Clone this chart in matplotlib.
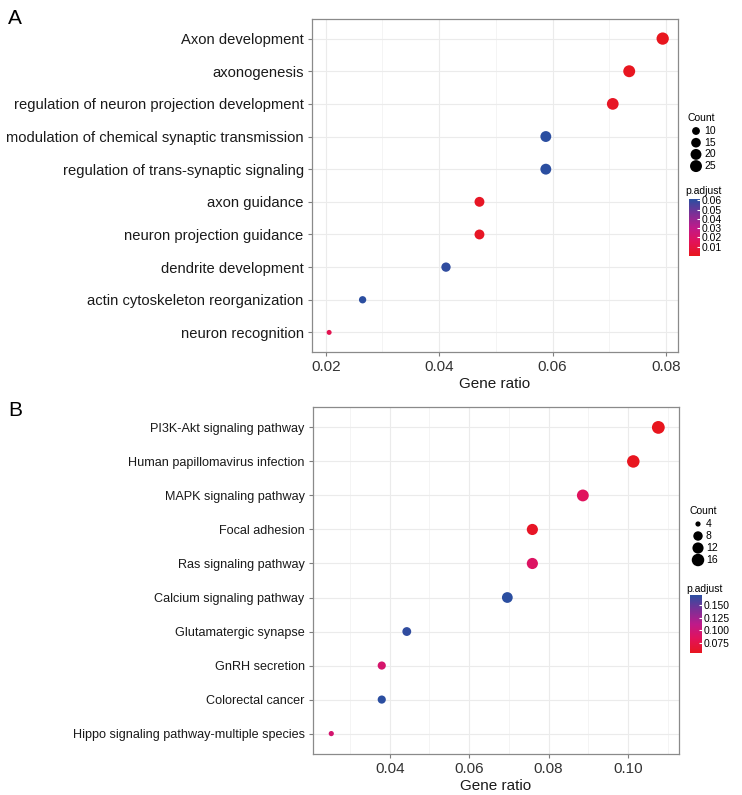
import numpy as np
import matplotlib
matplotlib.use("Agg")
import matplotlib.pyplot as plt
from matplotlib.colors import LinearSegmentedColormap, Normalize

plt.rcParams['font.family'] = ['Liberation Sans', 'DejaVu Sans']

# ---------------- datos ----------------
# panel A: GO
terms_a = ["Axon development", "axonogenesis",
           "regulation of neuron projection development",
           "modulation of chemical synaptic transmission",
           "regulation of trans-synaptic signaling", "axon guidance",
           "neuron projection guidance", "dendrite development",
           "actin cytoskeleton reorganization", "neuron recognition"]
ratio_a = [0.0794, 0.0735, 0.0706, 0.0588, 0.0588, 0.0471, 0.0471, 0.0412, 0.0265, 0.0206]
count_a = [27, 25, 24, 20, 20, 16, 16, 14, 9, 7]
padj_a = [0.0003, 0.001, 0.002, 0.061, 0.061, 0.002, 0.002, 0.060, 0.061, 0.013]
size_breaks_a = [10, 15, 20, 25]
cbar_ticks_a = [0.01, 0.02, 0.03, 0.04, 0.05, 0.06]
xticks_a = [0.02, 0.04, 0.06, 0.08]

# panel B: KEGG
terms_b = ["PI3K-Akt signaling pathway", "Human papillomavirus infection",
           "MAPK signaling pathway", "Focal adhesion", "Ras signaling pathway",
           "Calcium signaling pathway", "Glutamatergic synapse", "GnRH secretion",
           "Colorectal cancer", "Hippo signaling pathway-multiple species"]
ratio_b = [0.1076, 0.1013, 0.0886, 0.0759, 0.0759, 0.0696, 0.0443, 0.0380, 0.0380, 0.0253]
count_b = [17, 16, 14, 12, 12, 11, 7, 6, 6, 4]
padj_b = [0.054, 0.055, 0.085, 0.058, 0.088, 0.170, 0.168, 0.093, 0.170, 0.095]
size_breaks_b = [4, 8, 12, 16]
cbar_ticks_b = [0.075, 0.100, 0.125, 0.150]
xticks_b = [0.04, 0.06, 0.08, 0.10]

W, H = 742, 795
cmap = LinearSegmentedColormap.from_list(
    "padj", ["#E8161E", "#E2125A", "#BE1A8A", "#7A3096", "#2B4EA0"])


def diam(c, cmin, cmax, dmin, dmax):
    # diametro en px, area tipo ggplot
    c = np.asarray(c, dtype=float)
    return dmin + (dmax - dmin) * np.sqrt((c - cmin) / (cmax - cmin))


def s_pts(d):
    return (np.asarray(d) * 72 / 100) ** 2


def rect(x0, y0, x1, y1):
    # pixeles (arriba-izquierda) -> fraccion de figura
    return [x0 / W, 1 - y1 / H, (x1 - x0) / W, (y1 - y0) / H]


def panel(fig, box, terms, ratio, count, padj, xticks, xlim, fs_y, dr):
    ax = fig.add_axes(rect(*box))
    n = len(terms)
    y = np.arange(n)[::-1]
    norm = Normalize(min(padj), max(padj))
    d = diam(count, min(count), max(count), *dr)
    ax.scatter(ratio, y, s=s_pts(d), c=padj, cmap=cmap, norm=norm,
               edgecolors='none', zorder=3)
    ax.set_yticks(y)
    ax.set_yticklabels(terms, fontsize=fs_y, color='#1a1a1a')
    ax.set_xticks(xticks)
    ax.set_xticklabels(["%.2f" % v for v in xticks], fontsize=11, color='#333333')
    paso = xticks[1] - xticks[0]
    minor = [xticks[0] - paso / 2] + [v + paso / 2 for v in xticks]
    ax.set_xticks(minor, minor=True)
    # limites despues de los ticks (set_xticks los agranda)
    ax.set_ylim(-0.6, n - 1 + 0.6)
    ax.set_xlim(*xlim)
    ax.tick_params(axis='x', which='minor', length=0)
    ax.tick_params(which='major', length=3, color='#7f7f7f', width=0.8, pad=3)
    ax.grid(True, which='major', color='#ebebeb', lw=0.8)
    ax.grid(True, which='minor', axis='x', color='#f3f3f3', lw=0.6)
    ax.set_axisbelow(True)
    for sp in ax.spines.values():
        sp.set_color('#8a8a8a')
        sp.set_linewidth(0.9)
    ax.set_xlabel("Gene ratio", fontsize=11, color='#1a1a1a', labelpad=2)
    return norm


def leyenda(fig, ov, x, ytitle, breaks, count, dr, step, norm, cbox, cticks, fmt, ytitle2):
    ov.text(x - 8, ytitle, "Count", fontsize=7.5, va='center', ha='left')
    d = diam(breaks, min(count), max(count), *dr)
    for i, (b, di) in enumerate(zip(breaks, d)):
        yy = ytitle + 13 + i * step
        ov.scatter([x], [yy], s=s_pts(di), color='black', edgecolors='none')
        ov.text(x + 8, yy, str(b), fontsize=7.5, va='center', ha='left')
    ov.text(cbox[0] - 4, ytitle2, "p.adjust", fontsize=7.5, va='center', ha='left')
    cax = fig.add_axes(rect(*cbox))
    cb = fig.colorbar(plt.cm.ScalarMappable(norm=norm, cmap=cmap), cax=cax)
    cb.outline.set_visible(False)
    cb.set_ticks(cticks)
    cb.set_ticklabels([fmt % v for v in cticks])
    cax.tick_params(length=2.5, color='white', width=0.8, direction='in',
                    labelsize=7.5, pad=1.5)


fig = plt.figure(figsize=(W / 100, H / 100), dpi=100)
ov = fig.add_axes([0, 0, 1, 1])
ov.set_xlim(0, W)
ov.set_ylim(H, 0)
ov.axis('off')

dr_a = (5.0, 12.3)
dr_b = (5.2, 12.8)
norm_a = panel(fig, (312, 19, 678, 352), terms_a, ratio_a, count_a, padj_a,
               xticks_a, (0.01758, 0.0821), 10.6, dr_a)
norm_b = panel(fig, (313, 407, 679, 754), terms_b, ratio_b, count_b, padj_b,
               xticks_b, (0.0207, 0.1128), 9.1, dr_b)

leyenda(fig, ov, 696, 118, size_breaks_a, count_a, dr_a, 11.7, norm_a,
        (689, 199.3, 700, 255.7), cbar_ticks_a, "%.2f", 191)
leyenda(fig, ov, 698, 511, size_breaks_b, count_b, dr_b, 12, norm_b,
        (690, 595, 701.5, 653.3), cbar_ticks_b, "%.3f", 589)

ov.text(8, 18, "A", fontsize=15, va='center', ha='left')
ov.text(8, 410, "B", fontsize=15, va='center', ha='left')

fig.savefig("out.png", dpi=100)
